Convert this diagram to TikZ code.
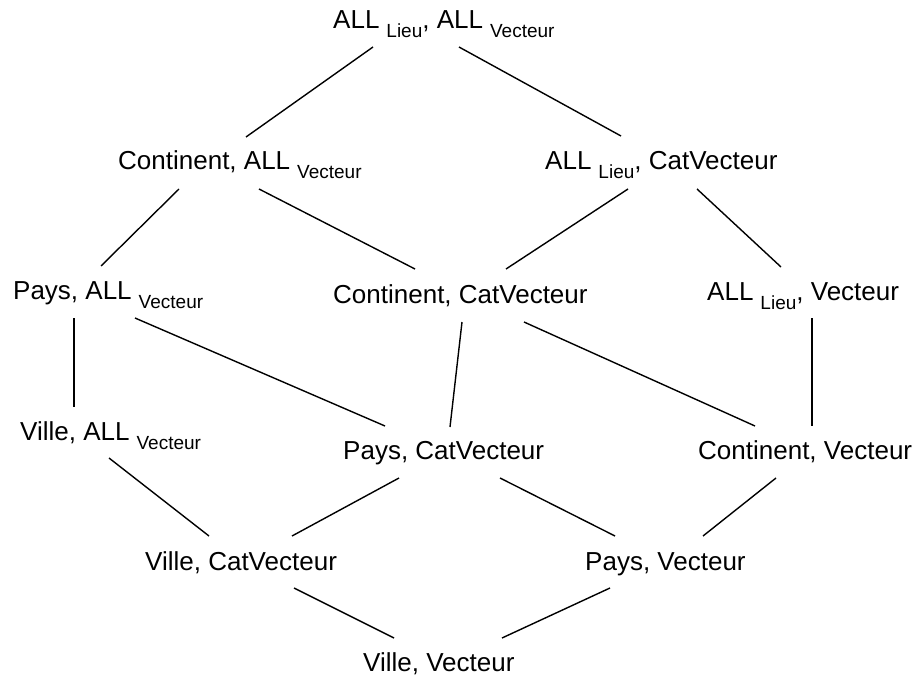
\documentclass[tikz,border=0pt]{standalone}
\usepackage{fontspec}
\setmainfont{Liberation Sans}
\newcommand{\lsb}[1]{\kern7pt\raisebox{-9pt}{\fontsize{19}{19}\selectfont #1}}
\begin{document}
\begin{tikzpicture}[
  lbl/.style={inner sep=0pt, anchor=base west, font=\fontsize{26}{26}\selectfont},
  edge/.style={line width=1.4pt}]
\useasboundingbox (0,0) rectangle (917pt,-679pt);
\node[lbl] (top) at (333pt,-29pt)  {ALL\lsb{Lieu}, ALL\lsb{Vecteur}};
\node[lbl] (CA)  at (118pt,-170pt) {Continent, ALL\lsb{Vecteur}};
\node[lbl] (LC)  at (545pt,-170pt) {ALL\lsb{Lieu}, CatVecteur};
\node[lbl] (PA)  at (13pt,-299pt)  {Pays, ALL\lsb{Vecteur}};
\node[lbl] (CC)  at (333pt,-303pt) {Continent, CatVecteur};
\node[lbl] (LV)  at (707pt,-300pt) {ALL\lsb{Lieu}, Vecteur};
\node[lbl] (VA)  at (20pt,-440pt)  {Ville, ALL\lsb{Vecteur}};
\node[lbl] (PC)  at (343pt,-459pt) {Pays, CatVecteur};
\node[lbl] (CV)  at (698pt,-459pt) {Continent, Vecteur};
\node[lbl] (VC)  at (145pt,-570pt) {Ville, CatVecteur};
\node[lbl] (PV)  at (585pt,-570pt) {Pays, Vecteur};
\node[lbl] (VV)  at (363pt,-671pt) {Ville, Vecteur};

\draw[edge] ([shift={(40pt,-18pt)}]top.base west) -- ([shift={(128pt,33pt)}]CA.base west);
\draw[edge] ([shift={(126pt,-18pt)}]top.base west) -- ([shift={(76pt,34pt)}]LC.base west);
\draw[edge] ([shift={(61pt,-19pt)}]CA.base west) -- ([shift={(88pt,33pt)}]PA.base west);
\draw[edge] ([shift={(141pt,-19pt)}]CA.base west) -- ([shift={(82pt,34pt)}]CC.base west);
\draw[edge] ([shift={(83pt,-19pt)}]LC.base west) -- ([shift={(173pt,34pt)}]CC.base west);
\draw[edge] ([shift={(152pt,-19pt)}]LC.base west) -- ([shift={(74pt,33pt)}]LV.base west);
\draw[edge] ([shift={(61pt,-19pt)}]PA.base west) -- ([shift={(54pt,33pt)}]VA.base west);
\draw[edge] ([shift={(122pt,-19pt)}]PA.base west) -- ([shift={(42pt,33pt)}]PC.base west);
\draw[edge] ([shift={(129pt,-19pt)}]CC.base west) -- ([shift={(107pt,32pt)}]PC.base west);
\draw[edge] ([shift={(191pt,-19pt)}]CC.base west) -- ([shift={(57pt,33pt)}]CV.base west);
\draw[edge] ([shift={(105pt,-18pt)}]LV.base west) -- ([shift={(114pt,33pt)}]CV.base west);
\draw[edge] ([shift={(89pt,-18pt)}]VA.base west) -- ([shift={(64pt,34pt)}]VC.base west);
\draw[edge] ([shift={(56pt,-19pt)}]PC.base west) -- ([shift={(147pt,34pt)}]VC.base west);
\draw[edge] ([shift={(157pt,-19pt)}]PC.base west) -- ([shift={(30pt,34pt)}]PV.base west);
\draw[edge] ([shift={(78pt,-19pt)}]CV.base west) -- ([shift={(118pt,34pt)}]PV.base west);
\draw[edge] ([shift={(149pt,-18pt)}]VC.base west) -- ([shift={(31pt,33pt)}]VV.base west);
\draw[edge] ([shift={(25pt,-18pt)}]PV.base west) -- ([shift={(139pt,33pt)}]VV.base west);
\end{tikzpicture}
\end{document}
